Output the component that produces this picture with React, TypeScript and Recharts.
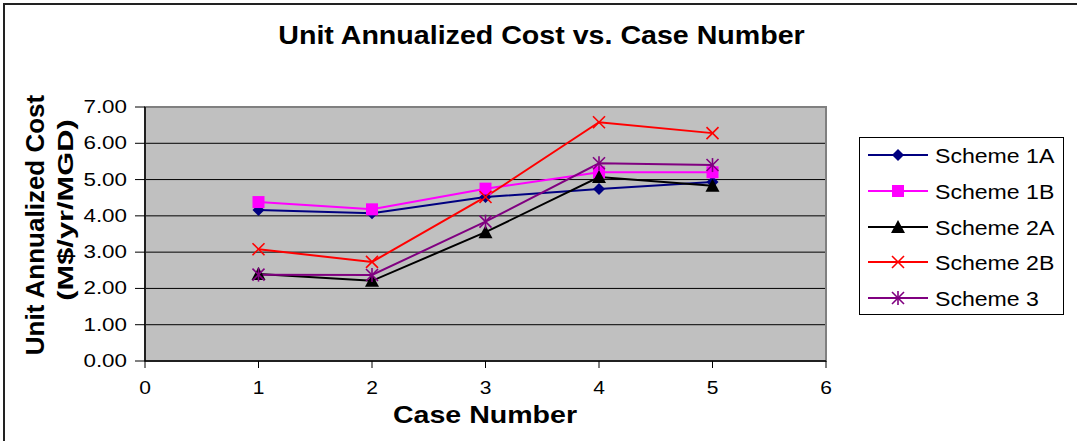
import React from 'react';
import {
  LineChart,
  Line,
  XAxis,
  YAxis,
  CartesianGrid,
  ReferenceArea
} from 'recharts';

// case numbers along the x axis
const cases = [1, 2, 3, 4, 5];

// unit annualized cost, M$/yr/MGD
const scheme1A = [4.16, 4.07, 4.52, 4.74, 4.93];
const scheme1B = [4.38, 4.18, 4.75, 5.2, 5.2];
const scheme2A = [2.4, 2.21, 3.55, 5.07, 4.83];
const scheme2B = [3.08, 2.73, 4.52, 6.58, 6.28];
const scheme3 = [2.38, 2.37, 3.84, 5.45, 5.4];

const xTicks = [0, 1, 2, 3, 4, 5, 6];
const yTicks = [0, 1, 2, 3, 4, 5, 6, 7];

type Shape = 'diamond' | 'square' | 'triangle' | 'cross' | 'star';

const series: { key: string; name: string; color: string; shape: Shape; values: number[] }[] = [
  { key: 's1A', name: 'Scheme 1A', color: '#000080', shape: 'diamond', values: scheme1A },
  { key: 's1B', name: 'Scheme 1B', color: '#FF00FF', shape: 'square', values: scheme1B },
  { key: 's2A', name: 'Scheme 2A', color: '#000000', shape: 'triangle', values: scheme2A },
  { key: 's2B', name: 'Scheme 2B', color: '#FF0000', shape: 'cross', values: scheme2B },
  { key: 's3', name: 'Scheme 3', color: '#800080', shape: 'star', values: scheme3 },
];

const data = cases.map((c, i) => {
  const row: Record<string, number> = { caseNo: c };
  series.forEach(s => { row[s.key] = s.values[i]; });
  return row;
});

const FONT = '"Liberation Sans", Arial, sans-serif';

function Marker({ shape, cx, cy, color }: { shape: Shape; cx: number; cy: number; color: string }) {
  if (cx == null || cy == null) return null;
  switch (shape) {
    case 'diamond':
      return <polygon points={`${cx},${cy - 6} ${cx + 6},${cy} ${cx},${cy + 6} ${cx - 6},${cy}`} fill={color} />;
    case 'square':
      return <rect x={cx - 6} y={cy - 6} width={12} height={12} fill={color} />;
    case 'triangle':
      return <polygon points={`${cx},${cy - 7} ${cx + 7},${cy + 6} ${cx - 7},${cy + 6}`} fill={color} />;
    case 'cross':
      return (
        <g stroke={color} strokeWidth={1.6}>
          <line x1={cx - 6} y1={cy - 6} x2={cx + 6} y2={cy + 6} />
          <line x1={cx - 6} y1={cy + 6} x2={cx + 6} y2={cy - 6} />
        </g>
      );
    case 'star':
      return (
        <g stroke={color} strokeWidth={1.6}>
          <line x1={cx - 6} y1={cy - 6} x2={cx + 6} y2={cy + 6} />
          <line x1={cx - 6} y1={cy + 6} x2={cx + 6} y2={cy - 6} />
          <line x1={cx} y1={cy - 7} x2={cx} y2={cy + 7} />
        </g>
      );
  }
  return null;
}

// text that is widened horizontally, the old export renders everything a bit wide
function WideText({ x, y, size, sx = 1, anchor = 'middle', bold = false, rotate = 0, children }: any) {
  const t = `translate(${x} ${y})${rotate ? ` rotate(${rotate})` : ''} scale(${sx} 1)`;
  return (
    <text
      transform={t}
      textAnchor={anchor}
      fontFamily={FONT}
      fontSize={size}
      fontWeight={bold ? 'bold' : 'normal'}
      fill="#000"
    >
      {children}
    </text>
  );
}

const YTick = (props: any) => {
  const { x, y, payload } = props;
  return <WideText x={x} y={y + 6} size={17.5} sx={1.28} anchor="end">{Number(payload.value).toFixed(2)}</WideText>;
};

const XTick = (props: any) => {
  const { x, y, payload } = props;
  return <WideText x={x} y={y + 12} size={17.5} sx={1.2}>{payload.value}</WideText>;
};

const legendRows = [155, 191, 227, 262, 298];

export default function App() {
  return (
    <div style={{ position: 'fixed', left: 0, top: 0, width: 1077, height: 441, background: '#fff', overflow: 'hidden' }}>
      <div
        style={{
          position: 'absolute',
          left: 3,
          top: 3,
          width: 1200,
          height: 600,
          borderTop: '2px solid #222',
          borderLeft: '2px solid #222'
        }}
      />
      <div style={{ position: 'absolute', left: 0, top: 0 }}>
        <LineChart width={1077} height={441} data={data} margin={{ top: 107, right: 251, bottom: 40, left: 85 }}>
          <CartesianGrid vertical={false} stroke="#000" fill="#C0C0C0" fillOpacity={1} />
          <ReferenceArea x1={0} x2={6} y1={0} y2={7} fill="none" stroke="#808080" strokeWidth={2} ifOverflow="visible" />
          <XAxis
            dataKey="caseNo"
            type="number"
            domain={[0, 6]}
            ticks={xTicks}
            height={40}
            tickSize={7}
            tickMargin={14}
            stroke="#000"
            axisLine={{ stroke: '#000', strokeWidth: 1.5 }}
            tick={XTick}
            interval={0}
          />
          <YAxis
            type="number"
            domain={[0, 7]}
            ticks={yTicks}
            width={60}
            tickSize={10}
            tickMargin={8}
            stroke="#000"
            axisLine={{ stroke: '#000', strokeWidth: 1.5 }}
            tick={YTick}
            interval={0}
          />
          {series.map(s => (
            <Line
              key={s.key}
              dataKey={s.key}
              name={s.name}
              stroke={s.color}
              strokeWidth={2}
              isAnimationActive={false}
              dot={(p: any) => <Marker key={`${s.key}-${p.index}`} shape={s.shape} cx={p.cx} cy={p.cy} color={s.color} />}
              activeDot={false}
            />
          ))}
        </LineChart>
      </div>
      <svg
        width={1077}
        height={441}
        style={{ position: 'absolute', left: 0, top: 0, pointerEvents: 'none' }}
      >
        <WideText x={541.5} y={44} size={26} sx={1.1} bold>Unit Annualized Cost vs. Case Number</WideText>
        <WideText x={485} y={423} size={24} sx={1.19} bold>Case Number</WideText>
        <WideText x={44} y={225} size={25} sx={1.04} bold rotate={-90}>Unit Annualized Cost</WideText>
        <WideText x={73} y={210} size={22} sx={1.4} bold rotate={-90}>(M$/yr/MGD)</WideText>

        <rect x={859.5} y={137.5} width={204} height={177} fill="#fff" stroke="#000" strokeWidth={1} />
        {series.map((s, i) => (
          <g key={s.key}>
            <line x1={868} x2={928} y1={legendRows[i]} y2={legendRows[i]} stroke={s.color} strokeWidth={2} />
            <Marker shape={s.shape} cx={898} cy={legendRows[i]} color={s.color} />
            <WideText x={935} y={legendRows[i] + 7.5} size={21} sx={1.1} anchor="start">{s.name}</WideText>
          </g>
        ))}
      </svg>
    </div>
  );
}
